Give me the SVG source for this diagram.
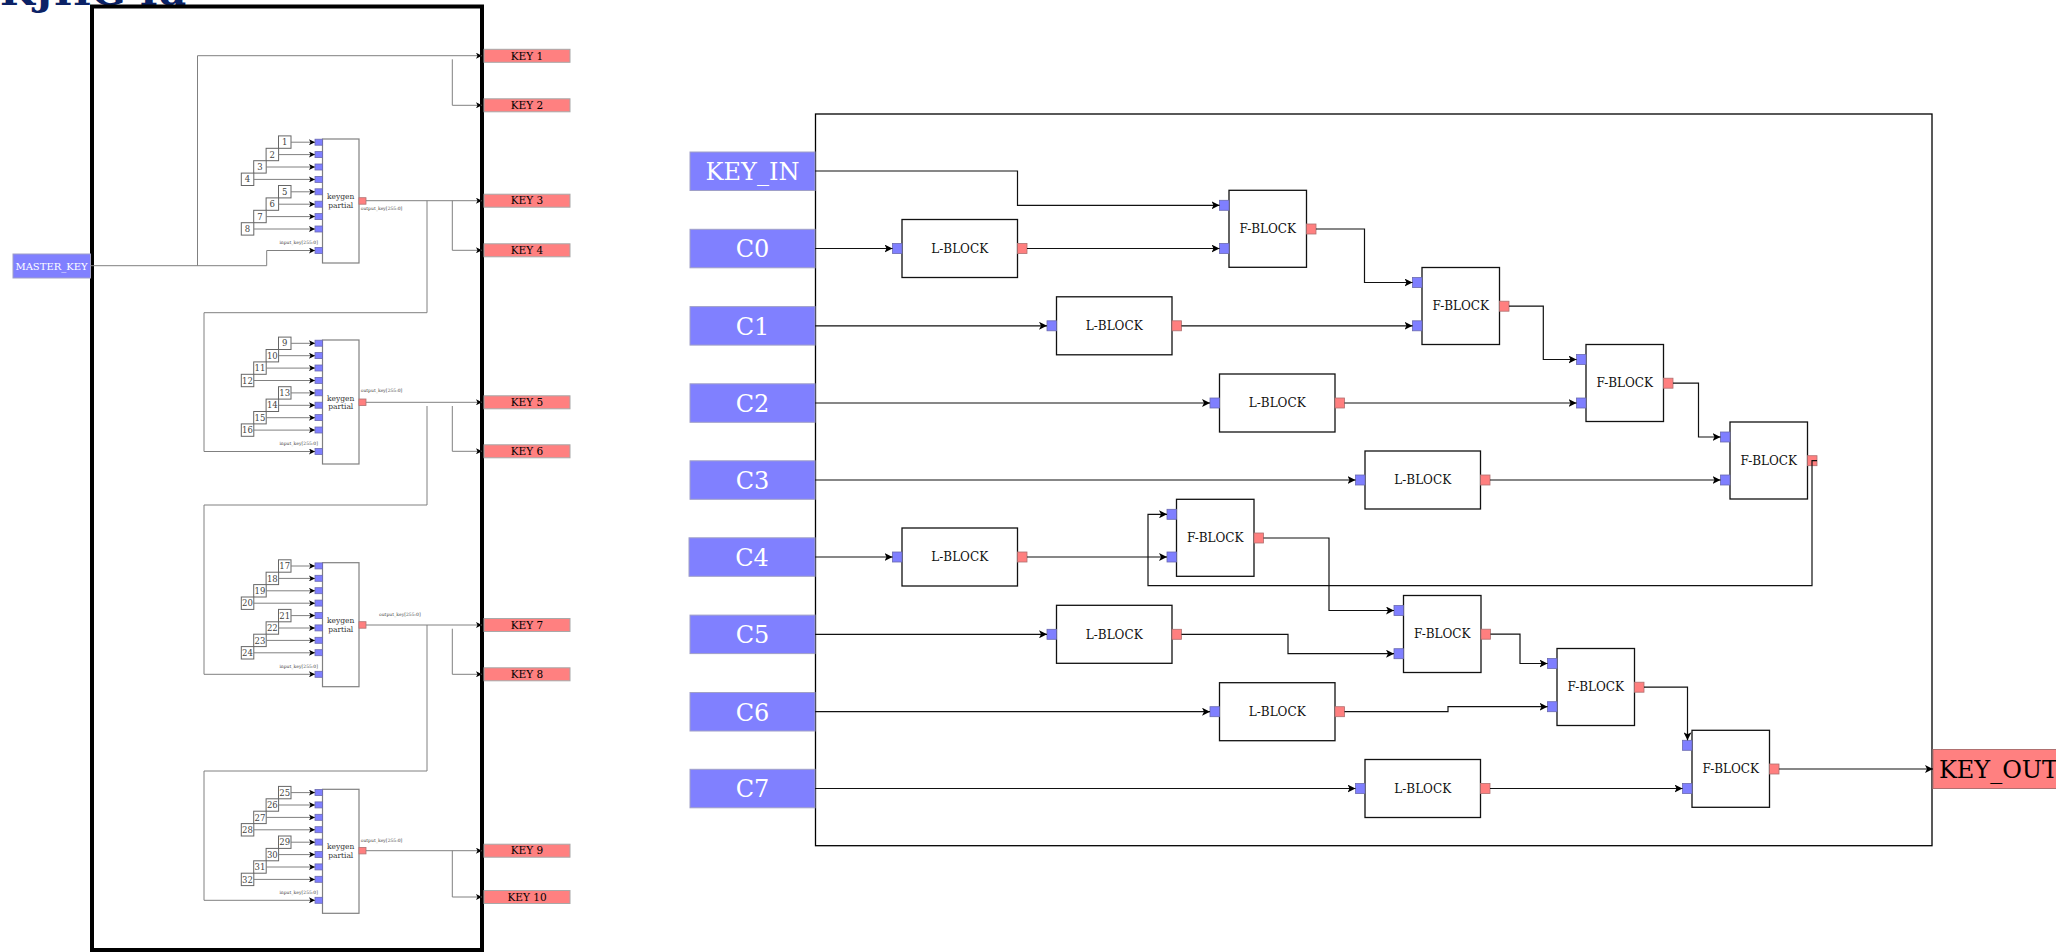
<svg xmlns="http://www.w3.org/2000/svg" width="2056" height="952" viewBox="0 0 2056 952">
<defs>
<marker id="ah" markerUnits="userSpaceOnUse" markerWidth="9" markerHeight="8" refX="8" refY="4" orient="auto">
<path d="M0,0 L8,4 L0,8 L2,4 z" fill="#000"/>
</marker>
<marker id="as" markerUnits="userSpaceOnUse" markerWidth="7" markerHeight="6" refX="6" refY="3" orient="auto">
<path d="M0,0 L6,3 L0,6 L1.5,3 z" fill="#000"/>
</marker>
</defs>
<style>
text{font-family:"DejaVu Serif","Liberation Serif",serif;}
.frame{fill:none;stroke:#000;stroke-width:4;}
.bigframe{fill:none;stroke:#000;stroke-width:1.3;}
.key{fill:#FF8080;stroke:#a8a8a8;stroke-width:1;}
.keyt{font-size:10.5px;fill:#000;text-anchor:middle;}
.inb{fill:#8080FF;stroke:#a0a0c8;stroke-width:1;}
.int{fill:#fff;text-anchor:middle;font-size:24px;}
.pin{fill:#7F7FFF;stroke:#6a6ab0;stroke-width:0.8;}
.pout{fill:#FF7F7F;stroke:#b07070;stroke-width:0.8;}
.kg{fill:#fff;stroke:#808080;stroke-width:1.2;}
.kgt{font-size:7.5px;fill:#333;text-anchor:middle;}
.nb{fill:#fff;stroke:#666;stroke-width:1;}
.nbt{font-size:8.5px;fill:#444;text-anchor:middle;}
.tiny{font-size:4.5px;fill:#444;}
.blk{fill:#fff;stroke:#111;stroke-width:1.3;}
.blkt{font-size:12px;fill:#111;text-anchor:middle;}
.lc{fill:none;stroke:#808080;stroke-width:1;}
.rc{fill:none;stroke:#111;stroke-width:1.2;}
</style>

<text x="0" y="5" style="font-size:40px;font-weight:bold;fill:#0b2266;">KJHG Id</text>

<!-- LEFT PANEL -->
<g id="master-frame"><rect class="frame" x="92" y="6.5" width="390" height="943.5"/></g>
<g id="master_key"><rect x="13" y="254" width="77.5" height="24" fill="#8080FF" stroke="#a0a0c8"/><text x="51.5" y="269.5" style="font-size:10px;fill:#fff;text-anchor:middle;">MASTER_KEY</text></g>

<g id="keys">
<g id="key1"><rect class="key" x="484" y="49.3" width="86" height="13"/><text class="keyt" x="527" y="59.5">KEY 1</text></g>
<g id="key2"><rect class="key" x="484" y="98.8" width="86" height="13"/><text class="keyt" x="527" y="109">KEY 2</text></g>
<g id="key3"><rect class="key" x="484" y="194.2" width="86" height="13"/><text class="keyt" x="527" y="204.4">KEY 3</text></g>
<g id="key4"><rect class="key" x="484" y="243.8" width="86" height="13"/><text class="keyt" x="527" y="254">KEY 4</text></g>
<g id="key5"><rect class="key" x="484" y="395.8" width="86" height="13"/><text class="keyt" x="527" y="406">KEY 5</text></g>
<g id="key6"><rect class="key" x="484" y="444.8" width="86" height="13"/><text class="keyt" x="527" y="455">KEY 6</text></g>
<g id="key7"><rect class="key" x="484" y="618.5" width="86" height="13"/><text class="keyt" x="527" y="628.7">KEY 7</text></g>
<g id="key8"><rect class="key" x="484" y="667.8" width="86" height="13"/><text class="keyt" x="527" y="678">KEY 8</text></g>
<g id="key9"><rect class="key" x="484" y="844.2" width="86" height="13"/><text class="keyt" x="527" y="854.4">KEY 9</text></g>
<g id="key10"><rect class="key" x="484" y="890.5" width="86" height="13"/><text class="keyt" x="527" y="900.7">KEY 10</text></g>
</g>

<g id="keygen1">
<rect class="kg" x="322.5" y="139" width="36.5" height="124"/>
<text class="kgt" x="340.7" y="199">keygen</text><text class="kgt" x="340.7" y="207.5">partial</text>
<rect class="pin" x="315" y="139.2" width="7.5" height="6"/><rect class="pin" x="315" y="151.6" width="7.5" height="6"/><rect class="pin" x="315" y="164" width="7.5" height="6"/><rect class="pin" x="315" y="176.4" width="7.5" height="6"/>
<rect class="pin" x="315" y="188.8" width="7.5" height="6"/><rect class="pin" x="315" y="201.2" width="7.5" height="6"/><rect class="pin" x="315" y="213.6" width="7.5" height="6"/><rect class="pin" x="315" y="226" width="7.5" height="6"/>
<rect class="pin" x="315" y="247.5" width="7.5" height="6"/>
<rect class="pout" x="359" y="197.7" width="7" height="6.5"/>
<text class="tiny" x="318" y="243.5" text-anchor="end">input_key[255:0]</text>
<text class="tiny" x="360.7" y="209.8">output_key[255:0]</text>
</g>
<g id="keygen2">
<rect class="kg" x="322.5" y="340" width="36.5" height="124"/>
<text class="kgt" x="340.7" y="400.5">keygen</text><text class="kgt" x="340.7" y="409">partial</text>
<rect class="pin" x="315" y="340.2" width="7.5" height="6"/><rect class="pin" x="315" y="352.6" width="7.5" height="6"/><rect class="pin" x="315" y="365" width="7.5" height="6"/><rect class="pin" x="315" y="377.4" width="7.5" height="6"/>
<rect class="pin" x="315" y="389.8" width="7.5" height="6"/><rect class="pin" x="315" y="402.2" width="7.5" height="6"/><rect class="pin" x="315" y="414.6" width="7.5" height="6"/><rect class="pin" x="315" y="427" width="7.5" height="6"/>
<rect class="pin" x="315" y="448.5" width="7.5" height="6"/>
<rect class="pout" x="359" y="399" width="7" height="6.5"/>
<text class="tiny" x="318" y="444.8" text-anchor="end">input_key[255:0]</text>
<text class="tiny" x="360.7" y="392.2">output_key[255:0]</text>
</g>
<g id="keygen3">
<rect class="kg" x="322.5" y="562.7" width="36.5" height="124"/>
<text class="kgt" x="340.7" y="623">keygen</text><text class="kgt" x="340.7" y="631.5">partial</text>
<rect class="pin" x="315" y="562.9" width="7.5" height="6"/><rect class="pin" x="315" y="575.3" width="7.5" height="6"/><rect class="pin" x="315" y="587.7" width="7.5" height="6"/><rect class="pin" x="315" y="600.1" width="7.5" height="6"/>
<rect class="pin" x="315" y="612.5" width="7.5" height="6"/><rect class="pin" x="315" y="624.9" width="7.5" height="6"/><rect class="pin" x="315" y="637.3" width="7.5" height="6"/><rect class="pin" x="315" y="649.7" width="7.5" height="6"/>
<rect class="pin" x="315" y="671.3" width="7.5" height="6"/>
<rect class="pout" x="359" y="621.7" width="7" height="6.5"/>
<text class="tiny" x="318" y="667.5" text-anchor="end">input_key[255:0]</text>
<text class="tiny" x="379" y="615.8">output_key[255:0]</text>
</g>
<g id="keygen4">
<rect class="kg" x="322.5" y="789.3" width="36.5" height="124"/>
<text class="kgt" x="340.7" y="849">keygen</text><text class="kgt" x="340.7" y="857.5">partial</text>
<rect class="pin" x="315" y="789.5" width="7.5" height="6"/><rect class="pin" x="315" y="801.9" width="7.5" height="6"/><rect class="pin" x="315" y="814.3" width="7.5" height="6"/><rect class="pin" x="315" y="826.7" width="7.5" height="6"/>
<rect class="pin" x="315" y="839.1" width="7.5" height="6"/><rect class="pin" x="315" y="851.5" width="7.5" height="6"/><rect class="pin" x="315" y="863.9" width="7.5" height="6"/><rect class="pin" x="315" y="876.3" width="7.5" height="6"/>
<rect class="pin" x="315" y="897.3" width="7.5" height="6"/>
<rect class="pout" x="359" y="847.4" width="7" height="6.5"/>
<text class="tiny" x="318" y="894" text-anchor="end">input_key[255:0]</text>
<text class="tiny" x="360.7" y="841.5">output_key[255:0]</text>
</g>

<g id="numbers">
<g id="n1"><rect class="nb" x="278.5" y="135.9" width="12.5" height="12.4"/><text class="nbt" x="284.7" y="145.2">1</text></g>
<g id="n2"><rect class="nb" x="266.1" y="148.3" width="12.5" height="12.4"/><text class="nbt" x="272.3" y="157.6">2</text></g>
<g id="n3"><rect class="nb" x="253.7" y="160.7" width="12.5" height="12.4"/><text class="nbt" x="259.9" y="170">3</text></g>
<g id="n4"><rect class="nb" x="241.3" y="173.1" width="12.5" height="12.4"/><text class="nbt" x="247.5" y="182.4">4</text></g>
<g id="n5"><rect class="nb" x="278.5" y="185.5" width="12.5" height="12.4"/><text class="nbt" x="284.7" y="194.8">5</text></g>
<g id="n6"><rect class="nb" x="266.1" y="197.9" width="12.5" height="12.4"/><text class="nbt" x="272.3" y="207.2">6</text></g>
<g id="n7"><rect class="nb" x="253.7" y="210.3" width="12.5" height="12.4"/><text class="nbt" x="259.9" y="219.6">7</text></g>
<g id="n8"><rect class="nb" x="241.3" y="222.7" width="12.5" height="12.4"/><text class="nbt" x="247.5" y="232">8</text></g>

<g id="n9"><rect class="nb" x="278.5" y="337.1" width="12.5" height="12.4"/><text class="nbt" x="284.7" y="346.4">9</text></g>
<g id="n10"><rect class="nb" x="266.1" y="349.5" width="12.5" height="12.4"/><text class="nbt" x="272.3" y="358.8">10</text></g>
<g id="n11"><rect class="nb" x="253.7" y="361.9" width="12.5" height="12.4"/><text class="nbt" x="259.9" y="371.2">11</text></g>
<g id="n12"><rect class="nb" x="241.3" y="374.3" width="12.5" height="12.4"/><text class="nbt" x="247.5" y="383.6">12</text></g>
<g id="n13"><rect class="nb" x="278.5" y="386.7" width="12.5" height="12.4"/><text class="nbt" x="284.7" y="396">13</text></g>
<g id="n14"><rect class="nb" x="266.1" y="399.1" width="12.5" height="12.4"/><text class="nbt" x="272.3" y="408.4">14</text></g>
<g id="n15"><rect class="nb" x="253.7" y="411.5" width="12.5" height="12.4"/><text class="nbt" x="259.9" y="420.8">15</text></g>
<g id="n16"><rect class="nb" x="241.3" y="423.9" width="12.5" height="12.4"/><text class="nbt" x="247.5" y="433.2">16</text></g>

<g id="n17"><rect class="nb" x="278.5" y="559.8" width="12.5" height="12.4"/><text class="nbt" x="284.7" y="569.1">17</text></g>
<g id="n18"><rect class="nb" x="266.1" y="572.2" width="12.5" height="12.4"/><text class="nbt" x="272.3" y="581.5">18</text></g>
<g id="n19"><rect class="nb" x="253.7" y="584.6" width="12.5" height="12.4"/><text class="nbt" x="259.9" y="593.9">19</text></g>
<g id="n20"><rect class="nb" x="241.3" y="597" width="12.5" height="12.4"/><text class="nbt" x="247.5" y="606.3">20</text></g>
<g id="n21"><rect class="nb" x="278.5" y="609.4" width="12.5" height="12.4"/><text class="nbt" x="284.7" y="618.7">21</text></g>
<g id="n22"><rect class="nb" x="266.1" y="621.8" width="12.5" height="12.4"/><text class="nbt" x="272.3" y="631.1">22</text></g>
<g id="n23"><rect class="nb" x="253.7" y="634.2" width="12.5" height="12.4"/><text class="nbt" x="259.9" y="643.5">23</text></g>
<g id="n24"><rect class="nb" x="241.3" y="646.6" width="12.5" height="12.4"/><text class="nbt" x="247.5" y="655.9">24</text></g>

<g id="n25"><rect class="nb" x="278.5" y="786.4" width="12.5" height="12.4"/><text class="nbt" x="284.7" y="795.7">25</text></g>
<g id="n26"><rect class="nb" x="266.1" y="798.8" width="12.5" height="12.4"/><text class="nbt" x="272.3" y="808.1">26</text></g>
<g id="n27"><rect class="nb" x="253.7" y="811.2" width="12.5" height="12.4"/><text class="nbt" x="259.9" y="820.5">27</text></g>
<g id="n28"><rect class="nb" x="241.3" y="823.6" width="12.5" height="12.4"/><text class="nbt" x="247.5" y="832.9">28</text></g>
<g id="n29"><rect class="nb" x="278.5" y="836" width="12.5" height="12.4"/><text class="nbt" x="284.7" y="845.3">29</text></g>
<g id="n30"><rect class="nb" x="266.1" y="848.4" width="12.5" height="12.4"/><text class="nbt" x="272.3" y="857.7">30</text></g>
<g id="n31"><rect class="nb" x="253.7" y="860.8" width="12.5" height="12.4"/><text class="nbt" x="259.9" y="870.1">31</text></g>
<g id="n32"><rect class="nb" x="241.3" y="873.2" width="12.5" height="12.4"/><text class="nbt" x="247.5" y="882.5">32</text></g>
</g>

<g id="left-connectors">
<path class="lc" marker-end="url(#as)" d="M291,142.2H315"/><path class="lc" marker-end="url(#as)" d="M278.6,154.6H315"/><path class="lc" marker-end="url(#as)" d="M266.2,167H315"/><path class="lc" marker-end="url(#as)" d="M253.8,179.4H315"/>
<path class="lc" marker-end="url(#as)" d="M291,191.8H315"/><path class="lc" marker-end="url(#as)" d="M278.6,204.2H315"/><path class="lc" marker-end="url(#as)" d="M266.2,216.6H315"/><path class="lc" marker-end="url(#as)" d="M253.8,229H315"/>
<path class="lc" marker-end="url(#as)" d="M291,343.3H315"/><path class="lc" marker-end="url(#as)" d="M278.6,355.7H315"/><path class="lc" marker-end="url(#as)" d="M266.2,368.1H315"/><path class="lc" marker-end="url(#as)" d="M253.8,380.5H315"/>
<path class="lc" marker-end="url(#as)" d="M291,392.9H315"/><path class="lc" marker-end="url(#as)" d="M278.6,405.3H315"/><path class="lc" marker-end="url(#as)" d="M266.2,417.7H315"/><path class="lc" marker-end="url(#as)" d="M253.8,430.1H315"/>
<path class="lc" marker-end="url(#as)" d="M291,566H315"/><path class="lc" marker-end="url(#as)" d="M278.6,578.4H315"/><path class="lc" marker-end="url(#as)" d="M266.2,590.8H315"/><path class="lc" marker-end="url(#as)" d="M253.8,603.2H315"/>
<path class="lc" marker-end="url(#as)" d="M291,615.6H315"/><path class="lc" marker-end="url(#as)" d="M278.6,628H315"/><path class="lc" marker-end="url(#as)" d="M266.2,640.4H315"/><path class="lc" marker-end="url(#as)" d="M253.8,652.8H315"/>
<path class="lc" marker-end="url(#as)" d="M291,792.6H315"/><path class="lc" marker-end="url(#as)" d="M278.6,805H315"/><path class="lc" marker-end="url(#as)" d="M266.2,817.4H315"/><path class="lc" marker-end="url(#as)" d="M253.8,829.8H315"/>
<path class="lc" marker-end="url(#as)" d="M291,842.2H315"/><path class="lc" marker-end="url(#as)" d="M278.6,854.6H315"/><path class="lc" marker-end="url(#as)" d="M266.2,867H315"/><path class="lc" marker-end="url(#as)" d="M253.8,879.4H315"/>

<path class="lc" marker-end="url(#as)" d="M90.5,265.7H266.7V250.5H315"/>
<path class="lc" marker-end="url(#as)" d="M197.5,265.7V55.7H482"/>
<path class="lc" marker-end="url(#as)" d="M452.3,59.3V105.3H482"/>

<path class="lc" marker-end="url(#as)" d="M366,200.7H482"/>
<path class="lc" marker-end="url(#as)" d="M452.3,200.7V250.3H482"/>
<path class="lc" marker-end="url(#as)" d="M427,200.7V312.7H204V451.5H315"/>

<path class="lc" marker-end="url(#as)" d="M366,402.3H482"/>
<path class="lc" marker-end="url(#as)" d="M452.3,406V451.3H482"/>
<path class="lc" marker-end="url(#as)" d="M427,406V505H204V674.3H315"/>

<path class="lc" marker-end="url(#as)" d="M366,625H482"/>
<path class="lc" marker-end="url(#as)" d="M452.3,628.7V674.3H482"/>
<path class="lc" marker-end="url(#as)" d="M427,625V771H204V900.3H315"/>

<path class="lc" marker-end="url(#as)" d="M366,850.7H482"/>
<path class="lc" marker-end="url(#as)" d="M452.3,850.7V897H482"/>
</g>

<!-- RIGHT PANEL -->
<g id="keygen-frame"><rect class="bigframe" x="815.5" y="114" width="1116.5" height="731.7"/></g>

<g id="inputs">
<g id="key_in"><rect class="inb" x="690" y="152" width="125" height="38.5"/><text class="int" x="752.5" y="180">KEY_IN</text></g>
<g id="c0"><rect class="inb" x="690" y="229.3" width="125" height="38.5"/><text class="int" x="752.5" y="257.3">C0</text></g>
<g id="c1"><rect class="inb" x="690" y="306.6" width="125" height="38.5"/><text class="int" x="752.5" y="334.6">C1</text></g>
<g id="c2"><rect class="inb" x="690" y="383.8" width="125" height="38.5"/><text class="int" x="752.5" y="411.8">C2</text></g>
<g id="c3"><rect class="inb" x="690" y="460.8" width="125" height="38.5"/><text class="int" x="752.5" y="488.8">C3</text></g>
<g id="c4"><rect class="inb" x="689" y="537.8" width="126" height="38.5"/><text class="int" x="752" y="565.8">C4</text></g>
<g id="c5"><rect class="inb" x="690" y="615.1" width="125" height="38.5"/><text class="int" x="752.5" y="643.1">C5</text></g>
<g id="c6"><rect class="inb" x="690" y="692.5" width="125" height="38.5"/><text class="int" x="752.5" y="720.5">C6</text></g>
<g id="c7"><rect class="inb" x="690" y="769.3" width="125" height="38.5"/><text class="int" x="752.5" y="797.3">C7</text></g>
</g>

<g id="lblocks">
<g id="l0"><rect class="blk" x="902" y="219.5" width="115.5" height="58"/><text class="blkt" x="959.7" y="252.7">L-BLOCK</text><rect class="pin" x="892.5" y="243.5" width="9.5" height="10"/><rect class="pout" x="1017.5" y="243.5" width="9.5" height="10"/></g>
<g id="l1"><rect class="blk" x="1056.5" y="296.8" width="115.5" height="58"/><text class="blkt" x="1114.2" y="330">L-BLOCK</text><rect class="pin" x="1047" y="320.8" width="9.5" height="10"/><rect class="pout" x="1172" y="320.8" width="9.5" height="10"/></g>
<g id="l2"><rect class="blk" x="1219.5" y="374" width="115.5" height="58"/><text class="blkt" x="1277.2" y="407.2">L-BLOCK</text><rect class="pin" x="1210" y="398" width="9.5" height="10"/><rect class="pout" x="1335" y="398" width="9.5" height="10"/></g>
<g id="l3"><rect class="blk" x="1365" y="451" width="115.5" height="58"/><text class="blkt" x="1422.7" y="484.2">L-BLOCK</text><rect class="pin" x="1355.5" y="475" width="9.5" height="10"/><rect class="pout" x="1480.5" y="475" width="9.5" height="10"/></g>
<g id="l4"><rect class="blk" x="902" y="528" width="115.5" height="58"/><text class="blkt" x="959.7" y="561.2">L-BLOCK</text><rect class="pin" x="892.5" y="552" width="9.5" height="10"/><rect class="pout" x="1017.5" y="552" width="9.5" height="10"/></g>
<g id="l5"><rect class="blk" x="1056.5" y="605.3" width="115.5" height="58"/><text class="blkt" x="1114.2" y="638.5">L-BLOCK</text><rect class="pin" x="1047" y="629.3" width="9.5" height="10"/><rect class="pout" x="1172" y="629.3" width="9.5" height="10"/></g>
<g id="l6"><rect class="blk" x="1219.5" y="682.7" width="115.5" height="58"/><text class="blkt" x="1277.2" y="715.9">L-BLOCK</text><rect class="pin" x="1210" y="706.7" width="9.5" height="10"/><rect class="pout" x="1335" y="706.7" width="9.5" height="10"/></g>
<g id="l7"><rect class="blk" x="1365" y="759.5" width="115.5" height="58"/><text class="blkt" x="1422.7" y="792.7">L-BLOCK</text><rect class="pin" x="1355.5" y="783.5" width="9.5" height="10"/><rect class="pout" x="1480.5" y="783.5" width="9.5" height="10"/></g>
</g>

<g id="fblocks">
<g id="f0"><rect class="blk" x="1229" y="190.3" width="77.5" height="77"/><text class="blkt" x="1267.7" y="233.2">F-BLOCK</text><rect class="pin" x="1219.5" y="200.3" width="9.5" height="10"/><rect class="pin" x="1219.5" y="243.5" width="9.5" height="10"/><rect class="pout" x="1306.5" y="224" width="9.5" height="10"/></g>
<g id="f1"><rect class="blk" x="1422" y="267.5" width="77.5" height="77"/><text class="blkt" x="1460.7" y="310.4">F-BLOCK</text><rect class="pin" x="1412.5" y="277.5" width="9.5" height="10"/><rect class="pin" x="1412.5" y="320.8" width="9.5" height="10"/><rect class="pout" x="1499.5" y="301.2" width="9.5" height="10"/></g>
<g id="f2"><rect class="blk" x="1586" y="344.5" width="77.5" height="77"/><text class="blkt" x="1624.7" y="387.4">F-BLOCK</text><rect class="pin" x="1576.5" y="354.5" width="9.5" height="10"/><rect class="pin" x="1576.5" y="398" width="9.5" height="10"/><rect class="pout" x="1663.5" y="378.2" width="9.5" height="10"/></g>
<g id="f3"><rect class="blk" x="1730" y="422" width="77.5" height="77"/><text class="blkt" x="1768.7" y="464.9">F-BLOCK</text><rect class="pin" x="1720.5" y="432" width="9.5" height="10"/><rect class="pin" x="1720.5" y="475" width="9.5" height="10"/><rect class="pout" x="1807.5" y="455.7" width="9.5" height="10"/></g>
<g id="f4"><rect class="blk" x="1176.5" y="499.3" width="77.5" height="77"/><text class="blkt" x="1215.2" y="542.2">F-BLOCK</text><rect class="pin" x="1167" y="509.3" width="9.5" height="10"/><rect class="pin" x="1167" y="552" width="9.5" height="10"/><rect class="pout" x="1254" y="533" width="9.5" height="10"/></g>
<g id="f5"><rect class="blk" x="1403.5" y="595.5" width="77.5" height="77"/><text class="blkt" x="1442.2" y="638.4">F-BLOCK</text><rect class="pin" x="1394" y="605.5" width="9.5" height="10"/><rect class="pin" x="1394" y="648.7" width="9.5" height="10"/><rect class="pout" x="1481" y="629.2" width="9.5" height="10"/></g>
<g id="f6"><rect class="blk" x="1557" y="648.5" width="77.5" height="77"/><text class="blkt" x="1595.7" y="691.4">F-BLOCK</text><rect class="pin" x="1547.5" y="658.5" width="9.5" height="10"/><rect class="pin" x="1547.5" y="701.7" width="9.5" height="10"/><rect class="pout" x="1634.5" y="682.2" width="9.5" height="10"/></g>
<g id="f7"><rect class="blk" x="1692" y="730.3" width="77.5" height="77"/><text class="blkt" x="1730.7" y="773.2">F-BLOCK</text><rect class="pin" x="1682.5" y="740.3" width="9.5" height="10"/><rect class="pin" x="1682.5" y="783.5" width="9.5" height="10"/><rect class="pout" x="1769.5" y="764" width="9.5" height="10"/></g>
</g>

<g id="key_out"><rect x="1933" y="749.5" width="131" height="39" fill="#FF8080" stroke="#b07070"/><text x="1998.5" y="777.5" style="font-size:24px;fill:#000;text-anchor:middle;">KEY_OUT</text></g>

<g id="right-connectors">
<path class="rc" marker-end="url(#ah)" d="M815,171H1017.5V205.3H1219.5"/>
<path class="rc" marker-end="url(#ah)" d="M815,248.5H892.5"/>
<path class="rc" marker-end="url(#ah)" d="M1027,248.5H1219.5"/>
<path class="rc" marker-end="url(#ah)" d="M1316,229H1364.5V282.5H1412.5"/>
<path class="rc" marker-end="url(#ah)" d="M815,325.8H1047"/>
<path class="rc" marker-end="url(#ah)" d="M1181.5,325.8H1412.5"/>
<path class="rc" marker-end="url(#ah)" d="M1509,306.2H1543.3V359.5H1576.5"/>
<path class="rc" marker-end="url(#ah)" d="M815,403H1210"/>
<path class="rc" marker-end="url(#ah)" d="M1344.5,403H1576.5"/>
<path class="rc" marker-end="url(#ah)" d="M1673,383.2H1698.5V437H1720.5"/>
<path class="rc" marker-end="url(#ah)" d="M815,480H1355.5"/>
<path class="rc" marker-end="url(#ah)" d="M1490,480H1720.5"/>
<path class="rc" marker-end="url(#ah)" d="M1817,460.7H1812V585.7H1148V514.3H1167"/>
<path class="rc" marker-end="url(#ah)" d="M815,557H892.5"/>
<path class="rc" marker-end="url(#ah)" d="M1027,557H1167"/>
<path class="rc" marker-end="url(#ah)" d="M1263.5,538H1329V610.5H1394"/>
<path class="rc" marker-end="url(#ah)" d="M815,634.3H1047"/>
<path class="rc" marker-end="url(#ah)" d="M1181.5,634.3H1288V653.7H1394"/>
<path class="rc" marker-end="url(#ah)" d="M1490.5,634.2H1520V663.5H1547.5"/>
<path class="rc" marker-end="url(#ah)" d="M815,711.7H1210"/>
<path class="rc" marker-end="url(#ah)" d="M1344.5,711.7H1448V706.7H1547.5"/>
<path class="rc" marker-end="url(#ah)" d="M1644,687.2H1687.5V740.3"/>
<path class="rc" marker-end="url(#ah)" d="M815,788.5H1355.5"/>
<path class="rc" marker-end="url(#ah)" d="M1490,788.5H1682.5"/>
<path class="rc" marker-end="url(#ah)" d="M1779,769H1933"/>
</g>
</svg>
